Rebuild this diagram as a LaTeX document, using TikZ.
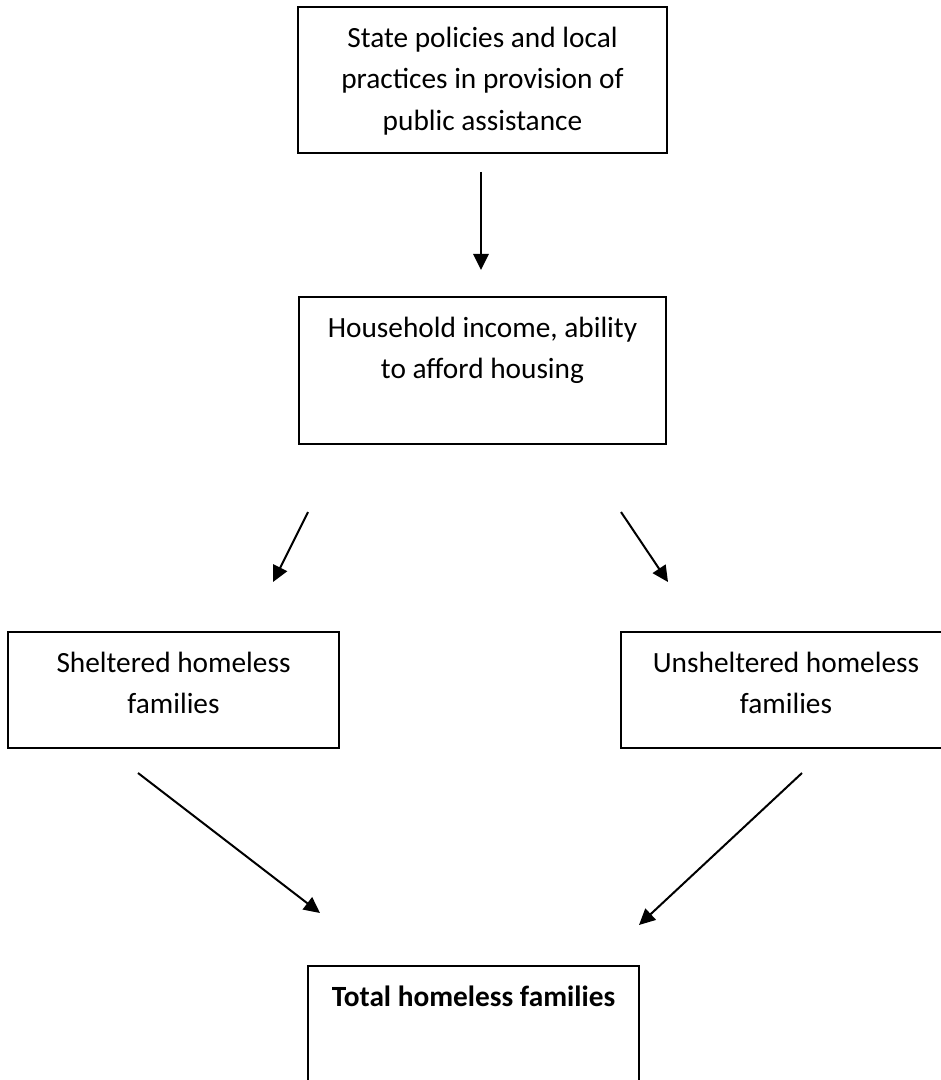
\documentclass[tikz,border=0pt]{standalone}
\usepackage{fontspec}
\setmainfont{Carlito}
\usetikzlibrary{arrows.meta,positioning}

\tikzset{
  frame/.style={draw, line width=1.5pt, inner sep=0pt},
  words/.style={align=center, inner sep=0pt, font=\fontsize{22}{31.1}\selectfont},
}

\begin{document}
\begin{tikzpicture}[x=0.75pt,y=-0.75pt,line width=1.5pt,>={Triangle[length=12pt,width=11.5pt]}]
\useasboundingbox (0,0) rectangle (940,1080);

% The boxes
\node[frame, minimum width=276.75pt, minimum height=109.5pt] (policy) at (482.5,80) {};
\node[frame, minimum width=275.25pt, minimum height=110.25pt] (income) at (482.5,370.5) {};
\node[frame, minimum width=248.25pt, minimum height=87pt] (sheltered) at (173.5,690) {};
\node[frame, minimum width=248.25pt, minimum height=87pt] (unsheltered) at (786,690) {};
\node[frame, minimum width=248.25pt, minimum height=110.25pt] (total) at (473.5,1039.5) {};

% The texts
\node[words, below=15pt of policy.north] (policytext) {State policies and local\\practices in provision of\\public assistance};
\node[words, below=15pt of income.north] (incometext) {Household income, ability\\to afford housing};
\node[words, below=15pt of sheltered.north] (shelteredtext) {Sheltered homeless\\families};
\node[words, below=15pt of unsheltered.north] (unshelteredtext) {Unsheltered homeless\\families};
\node[words, below=15pt of total.north] (totaltext) {\bfseries Total homeless families};

% The arrow ends
\coordinate (P1) at (481,172);
\coordinate (P2) at (481,270);
\coordinate (P3) at (308,512);
\coordinate (P4) at (273,582);
\coordinate (P5) at (621,512);
\coordinate (P6) at (668,582);
\coordinate (P7) at (138,773);
\coordinate (P8) at (320,913);
\coordinate (P9) at (802,773);
\coordinate (P10) at (639,925);

% The arrows
\draw[->] (P1) -- (P2);
\draw[->] (P3) -- (P4);
\draw[->] (P5) -- (P6);
\draw[->] (P7) -- (P8);
\draw[->] (P9) -- (P10);
\end{tikzpicture}
\end{document}
